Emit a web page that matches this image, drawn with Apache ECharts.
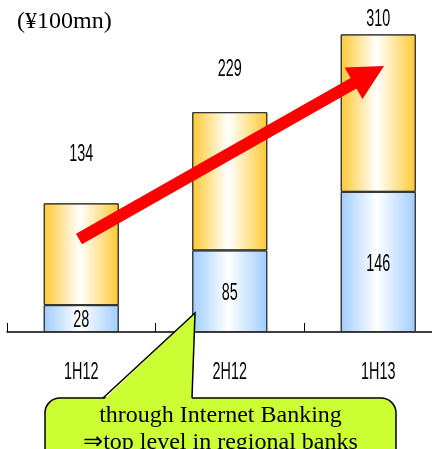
<!DOCTYPE html>
<html>
<head>
<meta charset="utf-8">
<script src="https://cdn.jsdelivr.net/npm/echarts@6/dist/echarts.min.js"></script>
<style>
  html, body { margin: 0; padding: 0; background: #fff; }
  #chart { width: 432px; height: 449px; }
</style>
</head>
<body>
<div id="chart"></div>
<script>
// Half-year periods
const categories = ['1H12', '2H12', '1H13'];
// Amount handled through Internet Banking (¥100mn)
const internetValues = [28, 85, 146];
// Period totals
const totalValues = [134, 229, 310];
// Remainder stacked on top of the Internet Banking part
const otherValues = totalValues.map((t, i) => t - internetValues[i]);

const unitLabel = '(¥100mn)';
const calloutLines = ['through Internet Banking', '⇒top level in regional banks'];

const sansFont = "'Liberation Sans', Arial, sans-serif";
const serifFont = "'Liberation Serif', 'Times New Roman', serif";

function hGradient(edge) {
  return new echarts.graphic.LinearGradient(0, 0, 1, 0, [
    { offset: 0, color: edge },
    { offset: 0.48, color: '#ffffff' },
    { offset: 1, color: edge }
  ]);
}

const chart = echarts.init(document.getElementById('chart'));

chart.setOption({
  animation: false,
  backgroundColor: '#ffffff',
  // the plot runs past the right edge of the canvas
  grid: { left: 7, width: 445.5, top: 5.6, bottom: 117, containLabel: false, outerBoundsMode: 'none' },
  xAxis: {
    type: 'category',
    data: categories,
    axisLine: { lineStyle: { color: '#000', width: 1.5 } },
    axisTick: { show: true, interval: 0, inside: true, length: 9, lineStyle: { color: '#000', width: 1 } },
    axisLabel: { show: false }
  },
  yAxis: {
    type: 'value', min: 0, max: 340, show: false, splitLine: { show: false }
  },
  series: [
    {
      name: 'Internet Banking',
      type: 'bar',
      stack: 'total',
      barWidth: 75,
      data: internetValues,
      itemStyle: { color: hGradient('#9fcdfd'), borderColor: '#333', borderWidth: 1 }
    },
    {
      name: 'Other',
      type: 'bar',
      stack: 'total',
      barWidth: 75,
      data: otherValues,
      itemStyle: { color: hGradient('#ffc933'), borderColor: '#333', borderWidth: 1 }
    }
  ]
});

// Tall condensed figures, as in the printed chart
function condensedText(x, y, text) {
  return {
    type: 'text', x: x, y: y, scaleX: 0.6, z: 15,
    style: { text: text, font: '24px ' + sansFont, fill: '#000', align: 'center', verticalAlign: 'middle' }
  };
}

const toPx = (i, v) => chart.convertToPixel({ seriesIndex: 0 }, [i, v]);

// gap (px) between each column top and the centre of its total label
const totalLabelGap = [49, 42.5, 15.5];
const categoryLabelY = 372;

const labels = [];
categories.forEach((c, i) => {
  const mid = toPx(i, internetValues[i] / 2);
  labels.push(condensedText(mid[0], mid[1] + 2, String(internetValues[i])));
  const top = toPx(i, totalValues[i]);
  labels.push(condensedText(top[0], top[1] - totalLabelGap[i], String(totalValues[i])));
  labels.push(condensedText(top[0], categoryLabelY, c));
});

// Growth arrow (decoration)
function arrowPoints(tail, tip, shaftW, headW, headLen) {
  const dx = tip[0] - tail[0], dy = tip[1] - tail[1];
  const len = Math.hypot(dx, dy);
  const ux = dx / len, uy = dy / len;
  const nx = -uy, ny = ux;
  const bx = tip[0] - ux * headLen, by = tip[1] - uy * headLen;
  const s = shaftW / 2, h = headW / 2;
  return [
    [tail[0] + nx * s, tail[1] + ny * s],
    [bx + nx * s, by + ny * s],
    [bx + nx * h, by + ny * h],
    tip,
    [bx - nx * h, by - ny * h],
    [bx - nx * s, by - ny * s],
    [tail[0] - nx * s, tail[1] - ny * s]
  ];
}

const boxTop = 398;
chart.setOption({
  graphic: labels.concat([
    {
      type: 'text', left: 17, top: 10,
      style: { text: unitLabel, font: '24px ' + serifFont, fill: '#000' }
    },
    {
      type: 'polygon',
      shape: { points: arrowPoints([79, 239], [384, 66], 12, 36, 35) },
      style: { fill: '#ff0000' }, z: 10
    },
    // Callout box
    {
      type: 'rect',
      shape: { x: 45, y: boxTop, width: 351, height: 75, r: 15 },
      style: { fill: '#ccff33', stroke: '#000', lineWidth: 1.5 }, z: 20
    },
    {
      type: 'polygon',
      shape: { points: [[104, boxTop + 1.5], [195, 313], [192, boxTop + 1.5]] },
      style: { fill: '#ccff33' }, z: 21
    },
    {
      type: 'polyline',
      shape: { points: [[103, boxTop], [195, 313], [192, boxTop]] },
      style: { stroke: '#000', lineWidth: 1.5, fill: null }, z: 22
    },
    {
      type: 'text', x: 220.5, y: 402, z: 23,
      style: {
        text: calloutLines.join('\n'), font: '24px ' + serifFont, fill: '#000',
        align: 'center', verticalAlign: 'top', lineHeight: 27
      }
    }
  ])
});
</script>
</body>
</html>
